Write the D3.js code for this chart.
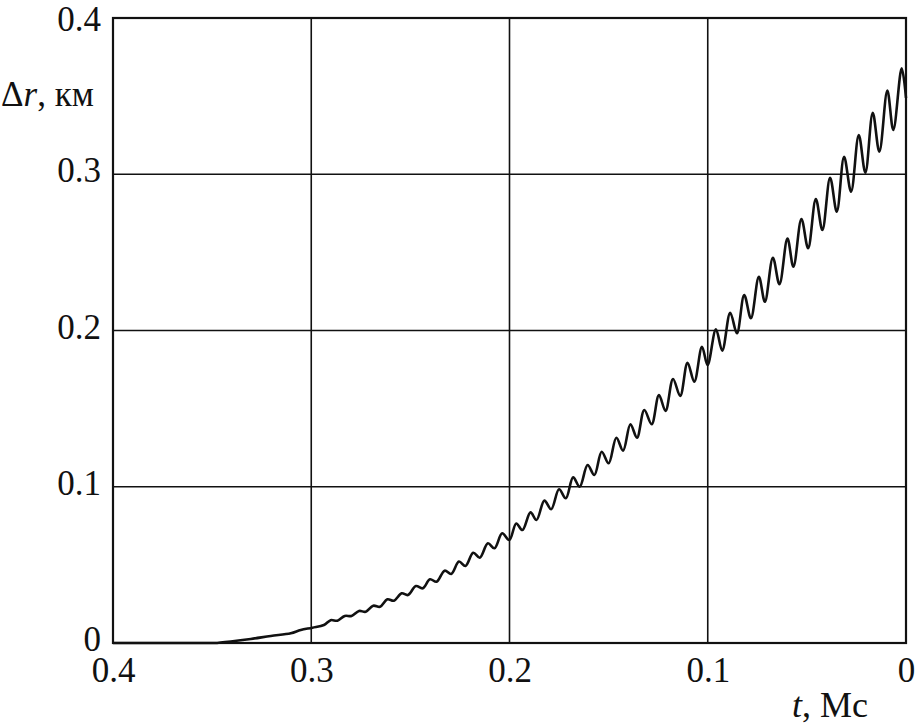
<!DOCTYPE html>
<html><head><meta charset="utf-8">
<script src="https://cdn.jsdelivr.net/npm/d3@7"></script>
<style>body{margin:0;background:#fff}svg{display:block}</style>
</head><body><div id="c"></div>
<script>
const xTicks = [0.4, 0.3, 0.2, 0.1, 0];
const yTicks = [0, 0.1, 0.2, 0.3, 0.4];
const xTickLabels = ["0.4", "0.3", "0.2", "0.1", "0"];
const yTickLabels = ["0", "0.1", "0.2", "0.3", "0.4"];
const tValues = [0.4,0.35,0.3486,0.3406,0.3305,0.3204,0.3103,0.3053,0.2994,0.2936,0.2902,0.2868,0.2831,0.2797,0.2759,0.2725,0.2687,0.2653,0.2616,0.2583,0.2544,0.2512,0.2472,0.2438,0.2401,0.2368,0.2327,0.2294,0.2255,0.2222,0.2183,0.2150,0.2109,0.2076,0.2037,0.2001,0.1966,0.1935,0.1894,0.1864,0.1824,0.1790,0.1750,0.1716,0.1679,0.1646,0.1606,0.1572,0.1535,0.1500,0.1461,0.1427,0.1390,0.1357,0.1320,0.1283,0.1246,0.1213,0.1175,0.1139,0.1102,0.1068,0.1029,0.1001,0.09587,0.09270,0.08866,0.08529,0.08161,0.07824,0.07421,0.07118,0.06715,0.06383,0.05980,0.05678,0.05275,0.04937,0.04549,0.04217,0.03829,0.03491,0.03123,0.02771,0.02383,0.0205,0.01678,0.01345,0.00942,0.0064,0.00217,0];
const drValues = [0,0,0,0.001,0.0026,0.0045,0.0062,0.0083,0.0098,0.0115,0.0146,0.0143,0.0173,0.0173,0.0205,0.0200,0.0239,0.0232,0.0280,0.0271,0.0318,0.0307,0.0365,0.0350,0.0408,0.0392,0.0463,0.0442,0.0521,0.0493,0.0578,0.0546,0.0638,0.0606,0.0702,0.0659,0.0765,0.0723,0.0836,0.0787,0.0911,0.0856,0.0984,0.0926,0.1060,0.1000,0.1139,0.1075,0.1224,0.1150,0.1314,0.1231,0.1400,0.1314,0.1491,0.1400,0.1587,0.1485,0.1690,0.1581,0.1794,0.1672,0.1896,0.1779,0.2008,0.1871,0.2114,0.1982,0.2227,0.2078,0.2344,0.2184,0.2466,0.2296,0.2588,0.2408,0.2714,0.2526,0.2842,0.2643,0.2978,0.2760,0.3112,0.2888,0.3251,0.3010,0.3394,0.3144,0.3535,0.3283,0.3678,0.3488];

const FONT = "Liberation Serif";
const FS = 35;
const W = 916, H = 728;
const L = 113, R = 906, T = 18, B = 643;
const svg = d3.select("#c").append("svg").attr("width", W).attr("height", H);
const x = d3.scaleLinear().domain([0.4, 0]).range([L, R]);
const y = d3.scaleLinear().domain([0, 0.4]).range([B, T]);

const g = svg.append("g");
g.selectAll("line.vx").data(xTicks.slice(1, -1)).enter().append("line")
  .attr("x1", d => x(d)).attr("x2", d => x(d)).attr("y1", T).attr("y2", B)
  .attr("stroke", "#111").attr("stroke-width", 1.6);
g.selectAll("line.hy").data(yTicks.slice(1, -1)).enter().append("line")
  .attr("y1", d => y(d)).attr("y2", d => y(d)).attr("x1", L).attr("x2", R)
  .attr("stroke", "#111").attr("stroke-width", 1.6);

const pts = tValues.map((t, i) => [t, drValues[i]]);
g.append("path").datum(pts)
  .attr("d", d3.line().x(d => x(d[0])).y(d => y(d[1])).curve(d3.curveCatmullRom.alpha(0.5)))
  .attr("fill", "none").attr("stroke", "#111").attr("stroke-width", 2.6).attr("stroke-linejoin", "round");

g.append("rect").attr("x", L).attr("y", T).attr("width", R - L).attr("height", B - T)
  .attr("fill", "none").attr("stroke", "#111").attr("stroke-width", 2.2);

const xAxis = d3.axisBottom(x).tickValues(xTicks).tickFormat((d, i) => xTickLabels[i]).tickSize(0).tickPadding(0);
const xa = svg.append("g").attr("transform", `translate(0,${B})`).call(xAxis)
  .attr("font-family", FONT).attr("font-size", FS);
xa.select(".domain").remove();
xa.selectAll("text").attr("y", 39).attr("dy", 0).attr("font-family", FONT).attr("font-size", FS).attr("fill", "#111");

const yAxis = d3.axisLeft(y).tickValues(yTicks).tickFormat((d, i) => yTickLabels[i]).tickSize(0).tickPadding(0);
const ya = svg.append("g").attr("transform", `translate(101,0)`).call(yAxis)
  .attr("font-family", FONT).attr("font-size", FS);
ya.select(".domain").remove();
ya.selectAll("text").attr("x", 0).attr("dy", d => d === 0.4 ? "0.37em" : "0.22em")
  .attr("font-family", FONT).attr("font-size", FS).attr("fill", "#111");

const yt = svg.append("text").attr("x", 1).attr("y", 106).attr("font-size", FS).attr("font-family", FONT).attr("fill", "#111");
yt.append("tspan").text("Δ");
yt.append("tspan").attr("font-style", "italic").text("r");
yt.append("tspan").text(", км");

const xt = svg.append("text").attr("x", 868).attr("y", 717).attr("font-size", 36).attr("font-family", FONT).attr("fill", "#111").attr("text-anchor", "end");
xt.append("tspan").attr("font-style", "italic").text("t");
xt.append("tspan").text(", Мс");
</script></body></html>
